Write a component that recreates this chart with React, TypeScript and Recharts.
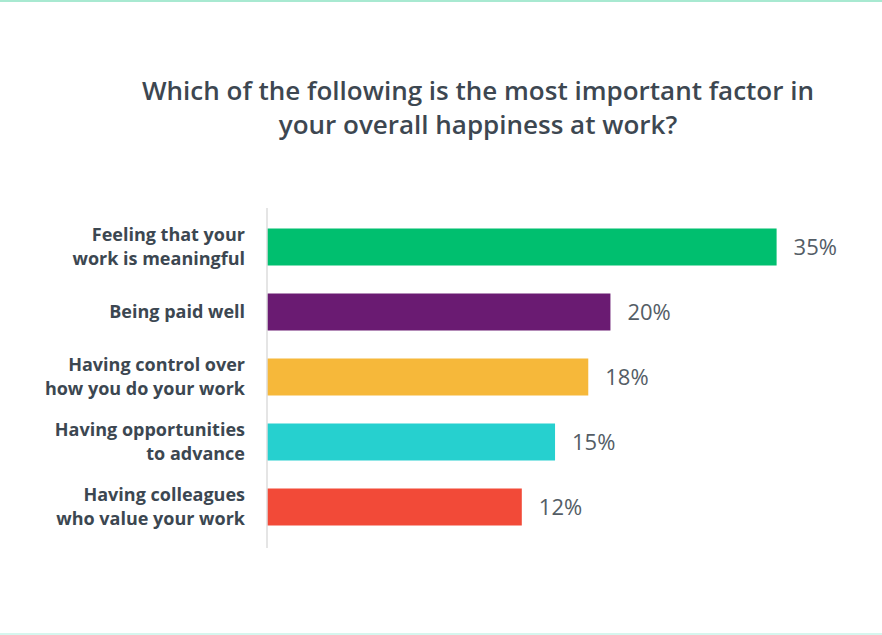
import React from "react";
import { BarChart, Bar, XAxis, YAxis, Cell, LabelList } from "recharts";

const categories = [
  "Feeling that your\nwork is meaningful",
  "Being paid well",
  "Having control over\nhow you do your work",
  "Having opportunities\nto advance",
  "Having colleagues\nwho value your work",
];
const shares = [35, 20, 18, 15, 12];
const barColors = ["#00bf6f", "#6a1b72", "#f6b83a", "#26d0cf", "#f24a38"];

const TITLE_LINES = [
  "Which of the following is the most important factor in",
  "your overall happiness at work?",
];

// the infographic's bars don't start at 0%, they start from this offset
const AXIS_BASE = -11;
const AXIS_MAX = 40;

const data = categories.map((label, i) => ({ label, pct: shares[i] }));

function CategoryTick({ x, y, payload }: any) {
  const lines = String(payload.value).split("\n");
  const lh = 24;
  const start = -((lines.length - 1) * lh) / 2 - 1;
  return (
    <text
      x={x}
      y={y}
      textAnchor="end"
      dominantBaseline="central"
      fontFamily="Open Sans"
      fontWeight={700}
      fontSize={18}
      fill="#3c4751"
    >
      {lines.map((ln, i) => (
        <tspan key={i} x={x} dy={i === 0 ? start : lh}>
          {ln}
        </tspan>
      ))}
    </text>
  );
}

export default function App() {
  return (
    <div
      style={{
        position: "absolute",
        left: 0,
        top: 0,
        width: 882,
        height: 635,
        background: "#fff",
        fontFamily: "'Open Sans', sans-serif",
      }}
    >
      <div style={{ position: "absolute", left: 0, top: 0, width: 882, height: 2, background: "#a8e9d1" }} />
      <div style={{ position: "absolute", left: 0, top: 633, width: 882, height: 2, background: "#d6f6ee" }} />
      <div
        style={{
          position: "absolute",
          left: 78,
          top: 73,
          width: 800,
          textAlign: "center",
          fontSize: 26,
          fontWeight: 600,
          lineHeight: "34px",
          color: "#3d4751",
        }}
      >
        {TITLE_LINES.map((t) => (
          <div key={t}>{t}</div>
        ))}
      </div>
      <div style={{ position: "absolute", left: 0, top: 0 }}>
        <BarChart
          width={882}
          height={635}
          data={data}
          layout="vertical"
          margin={{ top: 208, right: 50, bottom: 87, left: 0 }}
        >
          <XAxis type="number" hide domain={[AXIS_BASE, AXIS_MAX]} allowDataOverflow />
          <YAxis
            type="category"
            dataKey="label"
            width={267}
            axisLine={{ stroke: "#dcdcdc", strokeWidth: 1.5 }}
            tickLine={false}
            tickMargin={16}
            padding={{ top: 6.5, bottom: 8.5 }}
            tick={<CategoryTick />}
            interval={0}
          />
          <Bar
            dataKey={(d: any) => [AXIS_BASE, d.pct]}
            barSize={37}
            isAnimationActive={false}
          >
            {data.map((d, i) => (
              <Cell key={d.label} fill={barColors[i]} />
            ))}
            <LabelList
              dataKey="pct"
              position="right"
              offset={17}
              formatter={(v: any) => `${v}%`}
              fill="#545d66"
              fontSize={22}
              fontFamily="Open Sans"
            />
          </Bar>
        </BarChart>
      </div>
    </div>
  );
}
